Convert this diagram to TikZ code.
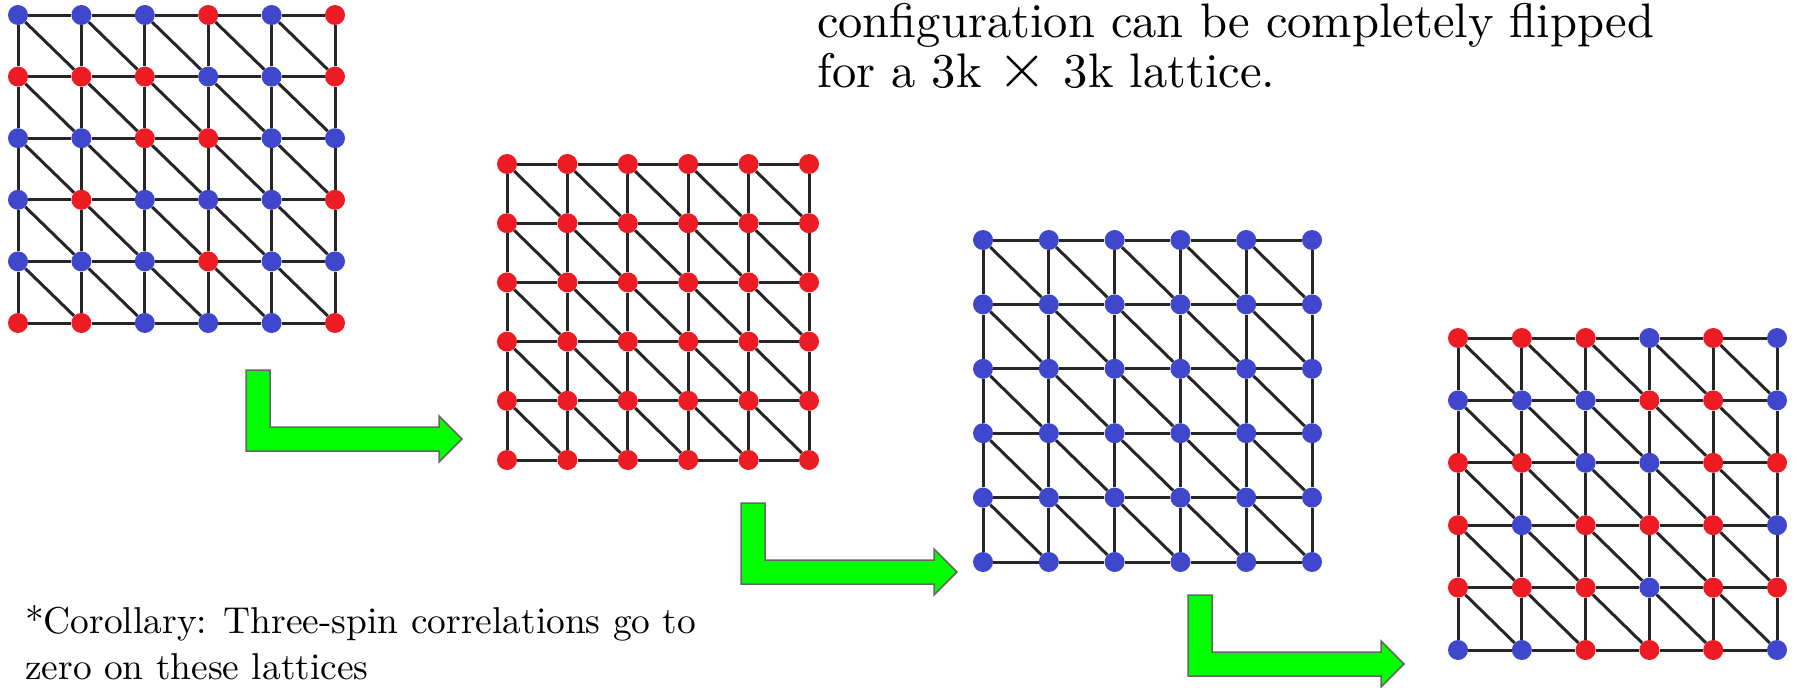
\documentclass[tikz,border=0pt]{standalone}
\usepackage{fontspec}
\usetikzlibrary{backgrounds}

\newfontfamily\slidefont{lmroman10-regular}[Extension=.otf]

\definecolor{spinR}{HTML}{ED1C24}
\definecolor{spinB}{HTML}{3F48CC}
\definecolor{arrowgreen}{HTML}{00FF00}

% one 6x6 triangular lattice: name, origin x, origin y, step x, step y, spins row by row
\newcommand{\spinlattice}[6]{%
    \foreach \row [count=\i from 0] in {#6} {
        \foreach \s [count=\j from 0] in \row {
            \node[spin=spin\s] (#1-\i-\j) at ({#2+\j*#4}, {#3+\i*#5}) {};
        }
    }
    \begin{scope}[on background layer]
        \foreach \i in {0,...,5} {
            \foreach \j [count=\jp from 1] in {0,...,4} {
                \draw[bond] (#1-\i-\j) -- (#1-\i-\jp);
            }
        }
        \foreach \i [count=\ip from 1] in {0,...,4} {
            \foreach \j in {0,...,5} {
                \draw[bond] (#1-\i-\j) -- (#1-\ip-\j);
            }
        }
        \foreach \i [count=\ip from 1] in {0,...,4} {
            \foreach \j [count=\jp from 1] in {0,...,4} {
                \draw[bond] (#1-\i-\j) -- (#1-\ip-\jp);
            }
        }
    \end{scope}
}

\begin{document}
\begin{tikzpicture}[
    x=1pt, y=-1pt,
    spin/.style={circle, fill=#1, draw=none, minimum size=20pt, inner sep=0pt},
    bond/.style={draw=black!85, line width=3pt},
    bentarrow/.style={fill=arrowgreen, draw=black!60, line width=1.5pt, line join=miter},
    notetext/.style={anchor=base west, inner sep=0pt, align=left, font=\slidefont\fontsize{48.5}{50}\selectfont},
    cornertext/.style={anchor=base west, inner sep=0pt, align=left, font=\slidefont\fontsize{37.4}{46}\selectfont}
]
    \useasboundingbox (0,0) rectangle (1797,688);

    % Starting configuration
    \spinlattice{start}{18}{15}{63.4}{61.6}{{B,B,B,R,B,R},{R,R,R,B,B,R},{B,B,R,R,B,B},{B,R,B,B,B,R},{B,B,B,R,B,B},{R,R,B,B,B,R}}

    % All red
    \spinlattice{red}{507}{164}{60.4}{59.2}{{R,R,R,R,R,R},{R,R,R,R,R,R},{R,R,R,R,R,R},{R,R,R,R,R,R},{R,R,R,R,R,R},{R,R,R,R,R,R}}

    % All blue
    \spinlattice{blue}{983}{240}{65.8}{64.4}{{B,B,B,B,B,B},{B,B,B,B,B,B},{B,B,B,B,B,B},{B,B,B,B,B,B},{B,B,B,B,B,B},{B,B,B,B,B,B}}

    % Flipped configuration
    \spinlattice{flip}{1458}{338}{63.8}{62.4}{{R,R,R,B,R,B},{B,B,B,R,R,B},{R,R,B,B,R,R},{R,B,R,R,R,B},{R,R,R,B,R,R},{B,B,R,R,R,B}}

    % Bent arrows
    \foreach \ax/\ay in {246/451, 741/584, 1188/676}
        \draw[bentarrow, shift={(\ax,\ay)}] (0,0) -- (0,-81) -- (24,-81) -- (24,-24) -- (193,-24)
            -- (193,-35) -- (216,-12) -- (193,11) -- (193,0) -- cycle;

    % Text (anchored at the baseline of the last line)
    \node[notetext] (flipnote) at (817,87) {configuration can be completely flipped\\for a 3k {\fontsize{64}{50}\selectfont ×} 3k lattice.};
    \node[cornertext] (corollary) at (25,679) {*Corollary: Three-spin correlations go to\\zero on these lattices};
\end{tikzpicture}
\end{document}
